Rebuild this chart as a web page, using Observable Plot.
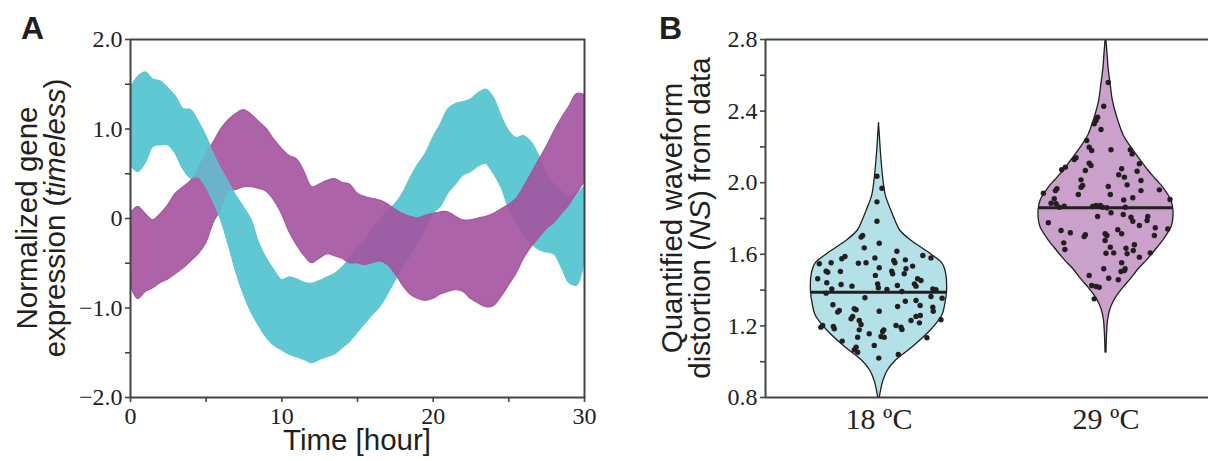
<!DOCTYPE html>
<html><head><meta charset="utf-8">
<script src="https://cdn.jsdelivr.net/npm/d3@7"></script>
<script src="https://cdn.jsdelivr.net/npm/@observablehq/plot@0.6"></script>
<style>
body{margin:0;background:#fff;}
#wrap{position:relative;width:1208px;height:461px;overflow:hidden;}
#wrap svg{position:absolute;top:0;}
</style></head><body><div id="wrap"></div>
<script>
// ---------- Panel A data: envelopes of the trace bundles (every 0.5 h) ----------
const hours = [0,0.5,1,1.5,2,2.5,3,3.5,4,4.5,5,5.5,6,6.5,7,7.5,8,8.5,9,9.5,10,10.5,11,11.5,12,12.5,13,13.5,14,14.5,15,15.5,16,16.5,17,17.5,18,18.5,19,19.5,20,20.5,21,21.5,22,22.5,23,23.5,24,24.5,25,25.5,26,26.5,27,27.5,28,28.5,29,29.5,30];
const cyanUpper = [1.45,1.58,1.63,1.55,1.53,1.45,1.36,1.22,1.21,1.08,0.92,0.72,0.55,0.40,0.25,0.12,-0.02,-0.28,-0.45,-0.58,-0.69,-0.66,-0.68,-0.72,-0.73,-0.70,-0.66,-0.62,-0.55,-0.45,-0.33,-0.25,-0.12,-0.02,0.08,0.16,0.28,0.45,0.60,0.72,0.90,1.05,1.22,1.28,1.30,1.33,1.40,1.44,1.35,1.15,0.98,0.90,0.92,0.85,0.70,0.50,0.38,0.30,0.25,0.28,0.35];
const cyanLower = [0.60,0.52,0.62,0.80,0.82,0.82,0.72,0.55,0.45,0.46,0.35,0.18,-0.02,-0.30,-0.60,-0.85,-1.05,-1.20,-1.33,-1.42,-1.47,-1.52,-1.55,-1.58,-1.62,-1.58,-1.55,-1.52,-1.45,-1.38,-1.28,-1.18,-1.08,-0.99,-0.85,-0.70,-0.55,-0.42,-0.27,-0.13,0.05,0.13,0.28,0.38,0.48,0.52,0.58,0.61,0.50,0.35,0.12,-0.05,-0.18,-0.28,-0.35,-0.38,-0.40,-0.55,-0.72,-0.75,-0.50];
const purpleUpper = [0.05,0.13,0.05,-0.02,0.05,0.15,0.28,0.35,0.42,0.55,0.72,0.85,1.00,1.10,1.17,1.21,1.16,1.08,1.00,0.88,0.78,0.70,0.66,0.52,0.35,0.38,0.42,0.44,0.40,0.38,0.28,0.24,0.22,0.20,0.16,0.10,0.05,0.02,0.00,0.03,0.05,0.07,0.07,0.02,-0.02,-0.02,0.00,0.02,0.05,0.10,0.15,0.22,0.35,0.50,0.65,0.80,0.97,1.12,1.25,1.39,1.38];
const purpleLower = [-0.75,-0.90,-0.82,-0.78,-0.72,-0.68,-0.62,-0.56,-0.48,-0.40,-0.28,-0.05,0.10,0.30,0.32,0.35,0.35,0.33,0.30,0.20,0.05,-0.15,-0.30,-0.42,-0.50,-0.45,-0.40,-0.42,-0.45,-0.50,-0.50,-0.52,-0.50,-0.48,-0.52,-0.62,-0.75,-0.85,-0.90,-0.92,-0.90,-0.85,-0.82,-0.80,-0.82,-0.90,-0.95,-0.99,-0.98,-0.88,-0.75,-0.62,-0.45,-0.32,-0.22,-0.12,-0.05,0.05,0.15,0.28,0.40];
const aXTicks = [0,5,10,15,20,25,30];
const aXLabels = ["0","","10","","20","","30"];
const aYTicks = [-2,-1.5,-1,-0.5,0,0.5,1,1.5,2];
const aYLabels = ["\u22122.0","","\u22121.0","","0","","1.0","","2.0"];

// ---------- Panel B data ----------
const groups = ["18 \u00baC", "29 \u00baC"];
const groupPos = [1, 2];
const violin18V = [0.800,0.839,0.895,0.951,1.007,1.079,1.174,1.258,1.314,1.398,1.493,1.549,1.593,1.638,1.677,1.733,1.789,1.845,1.928,2.012,2.096,2.180,2.264,2.332];
const violin18D = [0.012,0.03,0.066,0.13,0.25,0.49,0.76,0.93,0.97,1.0,0.985,0.93,0.79,0.62,0.47,0.31,0.24,0.18,0.10,0.066,0.044,0.026,0.012,0.0];
const violin29V = [1.051,1.146,1.230,1.286,1.325,1.359,1.415,1.454,1.526,1.565,1.638,1.677,1.750,1.789,1.845,1.901,1.973,2.012,2.068,2.124,2.197,2.264,2.347,2.459,2.532,2.644,2.722,2.800,2.880];
const violin29D = [0.007,0.015,0.03,0.06,0.10,0.15,0.26,0.35,0.50,0.60,0.76,0.84,0.96,0.985,0.99,0.96,0.84,0.75,0.62,0.51,0.37,0.26,0.18,0.10,0.074,0.037,0.022,0.007,0.005];
const median18 = 1.388, median29 = 1.860;
const pts18J = [-0.072,-0.079,0.001,-0.065,0.079,0.193,0.229,-0.150,-0.164,-0.211,
 -0.263,-0.091,-0.057,-0.018,0.065,0.070,0.116,0.148,0.119,0.001,
 -0.233,-0.226,-0.170,0.056,0.060,0.111,-0.016,-0.270,0.170,0.185,
 -0.230,-0.167,-0.119,-0.006,-0.003,0.081,0.156,0.163,0.035,0.101,
 0.237,0.251,-0.208,-0.233,0.229,0.278,-0.062,-0.203,-0.109,-0.101,
 0.001,0.082,0.116,0.163,0.181,0.237,0.239,-0.182,-0.175,-0.123,
 -0.116,0.163,0.182,0.141,0.178,0.273,-0.087,-0.079,-0.248,-0.256,
 -0.201,-0.197,0.075,0.097,0.101,-0.087,0.021,0.016,-0.043,-0.094,
 0.009,0.023,-0.162,0.211,-0.021,-0.101,-0.109,-0.094,0.085,-0.001,
 -0.009,0.013,-0.009,-0.009];
const pts18Y = [1.705,1.696,1.662,1.636,1.617,1.593,1.580,1.588,1.575,1.553,
 1.547,1.550,1.553,1.580,1.565,1.553,1.569,1.534,1.519,1.525,
 1.506,1.500,1.504,1.506,1.491,1.491,1.482,1.463,1.463,1.454,
 1.441,1.431,1.422,1.435,1.413,1.426,1.435,1.422,1.403,1.392,
 1.407,1.402,1.407,1.383,1.364,1.355,1.357,1.318,1.296,1.290,
 1.282,1.308,1.338,1.342,1.314,1.304,1.282,1.277,1.286,1.240,
 1.253,1.253,1.258,1.230,1.217,1.234,1.230,1.208,1.202,1.193,
 1.197,1.184,1.202,1.193,1.180,1.178,1.178,1.169,1.156,1.137,
 1.141,1.137,1.115,1.134,1.091,1.081,1.066,1.053,1.040,1.020,
 2.036,1.969,1.893,1.785];
const pts29J = [0.010,-0.010,-0.037,-0.044,-0.052,-0.022,-0.085,-0.074,-0.063,0.022,
 0.107,0.115,-0.132,-0.140,-0.179,-0.195,-0.074,-0.066,-0.091,0.147,
 0.069,0.137,0.056,0.081,-0.110,0.154,-0.103,-0.110,0.010,0.093,
 -0.216,-0.223,-0.276,0.235,0.154,-0.122,0.019,-0.228,0.118,0.078,
 0.282,-0.242,-0.220,-0.184,-0.206,-0.059,-0.044,-0.025,-0.015,0.004,
 0.085,-0.037,0.022,0.076,0.110,0.184,0.118,0.181,0.147,-0.254,
 -0.198,-0.157,-0.091,-0.096,-0.004,0.004,0.052,0.069,0.217,0.272,
 0.213,-0.186,-0.181,-0.004,0.019,0.088,0.093,0.125,0.120,0.000,
 0.034,0.195,0.147,0.069,-0.010,0.066,0.081,0.084,-0.074,0.012,
 0.054,-0.063,-0.044,-0.030,-0.052];
const pts29Y = [2.560,2.427,2.366,2.347,2.329,2.297,2.236,2.198,2.180,2.184,
 2.184,2.161,2.139,2.130,2.087,2.072,2.109,2.096,2.068,2.106,
 2.078,2.064,2.044,2.031,2.016,2.012,1.984,1.975,1.979,1.988,
 1.966,1.956,1.941,1.960,1.956,1.934,1.934,1.910,1.916,1.904,
 1.906,1.885,1.882,1.869,1.863,1.867,1.873,1.873,1.863,1.860,
 1.863,1.811,1.832,1.822,1.807,1.811,1.785,1.789,1.761,1.776,
 1.733,1.720,1.709,1.699,1.715,1.705,1.737,1.715,1.748,1.742,
 1.705,1.664,1.627,1.677,1.640,1.634,1.603,1.653,1.621,1.606,
 1.608,1.608,1.584,1.553,1.519,1.504,1.509,1.519,1.482,1.466,
 1.458,1.426,1.420,1.416,1.351];
const bYTicks = [0.8,1.0,1.2,1.4,1.6,1.8,2.0,2.2,2.4,2.6,2.8];
const bYLabels = ["0.8","","1.2","","1.6","","2.0","","2.4","","2.8"];

// ---------- styles ----------
const CYAN = "#5FC8D3", PURPLE = "#A3529E";
const V_CYAN = "#B4E1E7", V_PURPLE = "#C9A1CA";
const INK = "#231F20", AXIS = "#444", LABEL = "#222";
const SERIF = "'Liberation Serif','Times New Roman',serif";
const SANS = "'Liberation Sans',Arial,sans-serif";
const HALF = 0.3; // violin max half-width in x units

const wrap = document.getElementById("wrap");

// ---------- Panel A ----------
const band = (up, lo) => hours.map((t, i) => ({t, hi: up[i], lo: lo[i]}));
const cyanRows = band(cyanUpper, cyanLower);
const purpleRows = band(purpleUpper, purpleLower);
const lab = (ticks, labels) => d => labels[ticks.findIndex(v => Math.abs(v - d) < 1e-9)] ?? "";
const bandOpts = (color, extra = {}) => ({x: "t", y1: "lo", y2: "hi", fill: color, stroke: color, strokeWidth: 1.2, curve: "catmull-rom", clip: true, ...extra});

const plotA = Plot.plot({
  width: 600, height: 461,
  marginLeft: 130, marginRight: 16, marginTop: 39, marginBottom: 64,
  style: {fontFamily: SERIF, fontSize: "24px", color: LABEL, background: "transparent", overflow: "visible"},
  x: {domain: [0, 30], label: null},
  y: {domain: [-2, 2], label: null},
  marks: [
    Plot.areaY(cyanRows, bandOpts(CYAN)),
    Plot.areaY(purpleRows, bandOpts(PURPLE, {fillOpacity: 0.9, strokeOpacity: 0.9})),
    Plot.areaY(cyanRows.filter(d => d.t <= 11), bandOpts(CYAN, {fillOpacity: 0.8, strokeOpacity: 0.8})),
    Plot.frame({stroke: AXIS, strokeWidth: 2}),
    Plot.axisX({ticks: aXTicks, tickFormat: lab(aXTicks, aXLabels), tickSize: 5, tickPadding: 4, stroke: AXIS, strokeWidth: 1.6, fill: LABEL, label: null}),
    Plot.axisY({ticks: aYTicks, tickFormat: lab(aYTicks, aYLabels), tickSize: 5, tickPadding: 3, stroke: AXIS, strokeWidth: 1.6, fill: LABEL, label: null})
  ]
});
plotA.style.left = "0px";
wrap.appendChild(plotA);

// ---------- Panel B ----------
const vrows = (V, D, pos) => V.map((v, i) => ({v, x1: pos - HALF * D[i], x2: pos + HALF * D[i]}));
const halfAt = (V, D, m) => { const i = d3.bisectLeft(V, m); const f = (m - V[i-1]) / (V[i] - V[i-1]); return HALF * (D[i-1] + f * (D[i] - D[i-1])); };
const w18 = halfAt(violin18V, violin18D, median18);
const w29 = halfAt(violin29V, violin29D, median29);

const plotB = Plot.plot({
  width: 608, height: 461,
  marginLeft: 165, marginRight: 0, marginTop: 39, marginBottom: 64,
  style: {fontFamily: SERIF, fontSize: "24px", color: LABEL, background: "transparent", overflow: "visible"},
  x: {domain: [0.5, 2.4515], label: null},
  y: {domain: [0.8, 2.8], label: null},
  marks: [
    Plot.areaX(vrows(violin18V, violin18D, groupPos[0]), {y: "v", x1: "x1", x2: "x2", fill: V_CYAN, stroke: INK, strokeWidth: 1.3, curve: "catmull-rom", clip: true}),
    Plot.areaX(vrows(violin29V, violin29D, groupPos[1]), {y: "v", x1: "x1", x2: "x2", fill: V_PURPLE, stroke: INK, strokeWidth: 1.3, curve: "catmull-rom", clip: true}),
    Plot.ruleY([median18], {x1: groupPos[0] - w18, x2: groupPos[0] + w18, stroke: INK, strokeWidth: 3}),
    Plot.ruleY([median29], {x1: groupPos[1] - w29, x2: groupPos[1] + w29, stroke: INK, strokeWidth: 3}),
    Plot.dot(pts18Y, {x: (d, i) => groupPos[0] + pts18J[i], y: d => d, r: 2.7, fill: INK, stroke: null}),
    Plot.dot(pts29Y, {x: (d, i) => groupPos[1] + pts29J[i], y: d => d, r: 2.7, fill: INK, stroke: null}),
    Plot.ruleY([2.8], {stroke: AXIS, strokeWidth: 2}),
    Plot.ruleY([0.8], {stroke: AXIS, strokeWidth: 2}),
    Plot.ruleX([0.5], {stroke: AXIS, strokeWidth: 2}),
    Plot.axisX({ticks: groupPos, tickFormat: (d, i) => groups[i], tickSize: 0, tickPadding: 10, fontSize: 30, fill: LABEL, label: null}),
    Plot.axisY({ticks: bYTicks, tickFormat: lab(bYTicks, bYLabels), tickSize: 5, tickPadding: 3, stroke: AXIS, strokeWidth: 1.6, fill: LABEL, label: null})
  ]
});
plotB.style.left = "600px";
wrap.appendChild(plotB);

// ---------- Titles and panel letters ----------
const ov = d3.select(wrap).append("svg").attr("width", 1208).attr("height", 461)
  .style("left", "0px").style("pointer-events", "none");
const letter = (x, y, s) => ov.append("text").attr("x", x).attr("y", y).text(s)
  .attr("font-family", SANS).attr("font-weight", "bold").attr("font-size", 32).attr("fill", INK);
letter(21, 39, "A");
letter(659, 39, "B");
const rot = (x, y) => ov.append("text").attr("transform", `translate(${x},${y}) rotate(-90)`)
  .attr("text-anchor", "middle").attr("font-family", SANS).attr("font-size", 29.5).attr("fill", INK);
rot(37, 218).text("Normalized gene");
const t2 = rot(65, 218);
t2.append("tspan").text("expression (");
t2.append("tspan").attr("font-style", "italic").text("timeless");
t2.append("tspan").text(")");
rot(682, 218).text("Quantified waveform");
const t4 = rot(710, 218);
t4.append("tspan").text("distortion (");
t4.append("tspan").attr("font-style", "italic").text("NS");
t4.append("tspan").text(") from data");
ov.append("text").attr("x", 357).attr("y", 450).attr("text-anchor", "middle")
  .attr("font-family", SANS).attr("font-size", 29.5).attr("fill", INK).text("Time [hour]");
</script>
</body></html>
